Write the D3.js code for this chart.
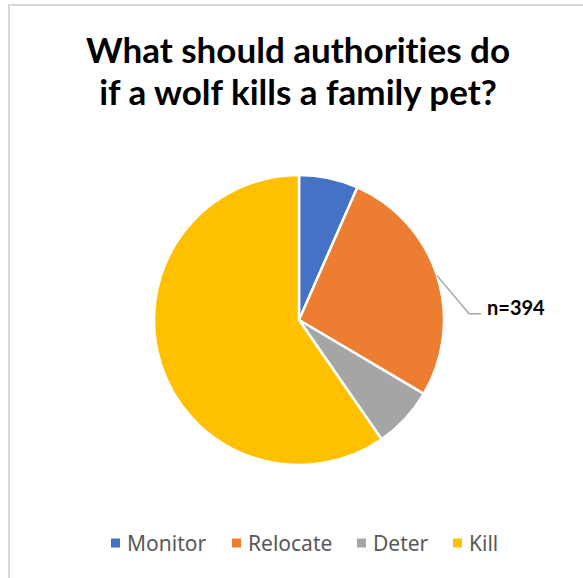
<!DOCTYPE html>
<html>
<head>
<meta charset="utf-8">
<script src="https://cdn.jsdelivr.net/npm/d3@7"></script>
<style>
  body { margin: 0; background: #fff; }
  svg { display: block; }
  text { font-variant-ligatures: none; font-feature-settings: "liga" 0; }
</style>
</head>
<body>
<svg width="583" height="578"></svg>
<script>
// chart values
var categories = ["Monitor", "Relocate", "Deter", "Kill"];
var counts = [26, 106, 27, 235];
var colors = ["#4472c4", "#ed7d31", "#a5a5a5", "#ffc000"];
var titleLines = ["What should authorities do", "if a wolf kills a family pet?"];
var sampleLabel = "n=394";

var svg = d3.select("svg");
var width = 583, height = 578;

// frame
svg.append("path")
    .attr("d", "M9," + height + "V5H" + width)
    .attr("fill", "none")
    .attr("stroke", "#d9d9d9")
    .attr("stroke-width", 2);

// title
svg.append("text")
    .attr("text-anchor", "middle")
    .attr("font-family", "Lato, 'Open Sans', sans-serif")
    .attr("font-weight", "bold")
    .attr("font-size", 35)
    .attr("fill", "#000")
    .selectAll("tspan")
    .data(titleLines)
    .enter().append("tspan")
        .attr("x", 298)
        .attr("y", function(d, i) { return 63 + i * 42; })
        .text(function(d) { return d; });

// pie
var cx = 299, cy = 320, r = 145;
var data = categories.map(function(c, i) { return {name: c, value: counts[i], color: colors[i]}; });
var pie = d3.pie().sort(null).value(function(d) { return d.value; });
var arc = d3.arc().innerRadius(0).outerRadius(r);
var arcs = pie(data);

var g = svg.append("g").attr("transform", "translate(" + cx + "," + cy + ")");
g.selectAll("path")
    .data(arcs)
    .enter().append("path")
        .attr("d", arc)
        .attr("fill", function(d) { return d.data.color; })
        .attr("stroke", "#fff")
        .attr("stroke-width", 2.5)
        .attr("stroke-linejoin", "round");

// leader line for sample size, from middle of Relocate slice
var rel = arcs[1];
var mid = (rel.startAngle + rel.endAngle) / 2;
var p0 = [Math.sin(mid) * r, -Math.cos(mid) * r];
var p1 = [p0[0] + 32, p0[1] + 38];
var p2 = [p1[0] + 12, p1[1]];
g.append("polyline")
    .attr("points", [p0, p1, p2].map(function(p) { return p.join(","); }).join(" "))
    .attr("fill", "none")
    .attr("stroke", "#a6a6a6")
    .attr("stroke-width", 1.5);
g.append("text")
    .attr("x", p2[0] + 6)
    .attr("y", p2[1] + 1)
    .attr("font-family", "Lato, 'Open Sans', sans-serif")
    .attr("font-weight", "bold")
    .attr("font-size", 20)
    .attr("fill", "#000")
    .text(sampleLabel);

// legend
var legendX = d3.scaleOrdinal().domain(categories).range([111, 232, 357, 453]);
var legend = svg.append("g").selectAll("g")
    .data(data)
    .enter().append("g")
        .attr("transform", function(d) { return "translate(" + legendX(d.name) + ",543)"; });
legend.append("rect")
    .attr("x", 0).attr("y", -4.5)
    .attr("width", 9).attr("height", 9)
    .attr("fill", function(d) { return d.color; });
legend.append("text")
    .attr("x", 16)
    .attr("y", 7.5)
    .attr("font-family", "'Noto Sans', 'Open Sans', sans-serif")
    .attr("font-size", 21)
    .attr("fill", "#595959")
    .text(function(d) { return d.name; });
</script>
</body>
</html>
